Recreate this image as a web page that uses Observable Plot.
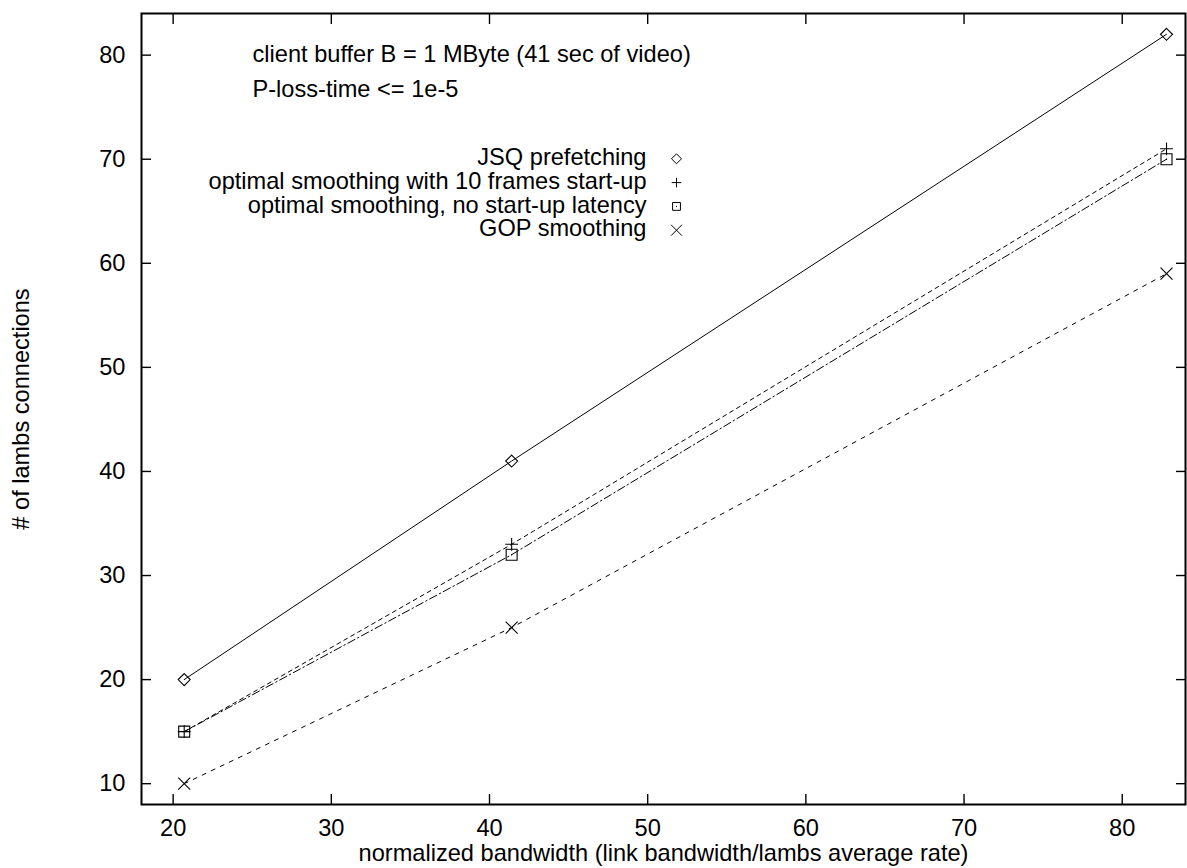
<!DOCTYPE html>
<html><head><meta charset="utf-8">
<script src="https://cdn.jsdelivr.net/npm/d3@7"></script>
<script src="https://cdn.jsdelivr.net/npm/@observablehq/plot@0.6"></script>
<style>body{margin:0;background:#fff;}</style>
</head><body><div id="chart"></div>
<script>
// ---- data ----
const bandwidth = [20.7, 41.4, 82.8];
const jsqPrefetching = [20, 41, 82];
const optimal10Frames = [15, 33, 71];
const optimalNoLatency = [15, 32, 70];
const gopSmoothing = [10, 25, 59];
const seriesNames = [
  "JSQ prefetching",
  "optimal smoothing with 10 frames start-up",
  "optimal smoothing, no start-up latency",
  "GOP smoothing"
];
const xTicks = [20, 30, 40, 50, 60, 70, 80];
const yTicks = [10, 20, 30, 40, 50, 60, 70, 80];
const annotations = ["client buffer B = 1 MByte (41 sec of video)", "P-loss-time <= 1e-5"];
const xLabel = "normalized bandwidth (link bandwidth/lambs average rate)";
const yLabel = "# of lambs connections";

// ---- styles ----
const seriesValues = [jsqPrefetching, optimal10Frames, optimalNoLatency, gopSmoothing];
const styles = [
  {symbol: "diamond2", r: 5.4, legendR: 4.5, dash: null},
  {symbol: "plus", r: 4.2, legendR: 3.2, dash: "4,4"},
  {symbol: "square2", r: 7, legendR: 5, dash: "8,3,1.5,3", centerDot: true},
  {symbol: "times", r: 5.5, legendR: 5, dash: "4,6"}
];
const font = "'Liberation Sans', Arial, Helvetica, sans-serif";
const FS = 23.6;

const rows = seriesNames.map((name, i) =>
  bandwidth.map((b, j) => ({series: name, x: b, y: seriesValues[i][j]})));

const marks = [];
rows.forEach((data, i) => {
  const s = styles[i];
  marks.push(Plot.line(data, {x: "x", y: "y", stroke: "black", strokeWidth: 1, strokeDasharray: s.dash}));
  marks.push(Plot.dot(data, {x: "x", y: "y", symbol: s.symbol, r: s.r, stroke: "black", fill: "none", strokeWidth: 1.1}));
  if (s.centerDot) marks.push(Plot.dot(data, {x: "x", y: "y", r: 0.7, fill: "black", stroke: "none"}));
});

// legend (inside frame, top-left anchored)
const rowGap = 23.8;
seriesNames.forEach((name, i) => {
  const s = styles[i];
  marks.push(Plot.text([name], {text: d => d, frameAnchor: "top-left", textAnchor: "end", lineAnchor: "bottom",
    dx: 505, dy: 151.5 + i * rowGap, fontSize: FS, fill: "black"}));
  marks.push(Plot.dot([name], {frameAnchor: "top-left", dx: 535, dy: 145.3 + i * rowGap, symbol: s.symbol, r: s.legendR,
    stroke: "black", fill: "none", strokeWidth: 1}));
  if (s.centerDot) marks.push(Plot.dot([name], {frameAnchor: "top-left", dx: 535, dy: 145.3 + i * rowGap, r: 0.6, fill: "black", stroke: "none"}));
});

// annotations
annotations.forEach((t, i) => {
  marks.push(Plot.text([t], {text: d => d, frameAnchor: "top-left", textAnchor: "start", lineAnchor: "bottom",
    dx: 111, dy: 48 + i * 35, fontSize: FS, fill: "black"}));
});

// axes: labels
marks.push(Plot.axisX(xTicks, {anchor: "bottom", tickSize: 0, tickPadding: 15, label: null, fontSize: FS, fill: "black"}));
marks.push(Plot.axisY(yTicks, {anchor: "left", tickSize: 0, tickPadding: 16, label: null, fontSize: FS, fill: "black"}));
// inward ticks on all four sides
marks.push(Plot.axisX(xTicks, {anchor: "bottom", tickSize: -10, tickFormat: () => "", label: null, strokeWidth: 1.4}));
marks.push(Plot.axisX(xTicks, {anchor: "top", tickSize: -10, tickFormat: () => "", label: null, strokeWidth: 1.4}));
marks.push(Plot.axisY(yTicks, {anchor: "left", tickSize: -10, tickFormat: () => "", label: null, strokeWidth: 1.4}));
marks.push(Plot.axisY(yTicks, {anchor: "right", tickSize: -10, tickFormat: () => "", label: null, strokeWidth: 1.4}));
// axis titles
marks.push(Plot.text([xLabel], {text: d => d, frameAnchor: "bottom", textAnchor: "middle", lineAnchor: "bottom", dy: 56, fontSize: FS, fill: "black"}));
marks.push(Plot.text([yLabel], {text: d => d, frameAnchor: "left", textAnchor: "middle", lineAnchor: "bottom", rotate: -90, dx: -113, fontSize: FS, fill: "black"}));
marks.push(Plot.frame({stroke: "black", strokeWidth: 2}));

const chart = Plot.plot({
  width: 1187,
  height: 868,
  marginLeft: 141,
  marginRight: 2,
  marginTop: 13,
  marginBottom: 64,
  style: {fontFamily: font, fontSize: FS + "px", background: "white", color: "black"},
  x: {domain: [18, 84], axis: null},
  y: {domain: [8, 84], axis: null},
  marks
});
document.getElementById("chart").appendChild(chart);
</script>
</body></html>
